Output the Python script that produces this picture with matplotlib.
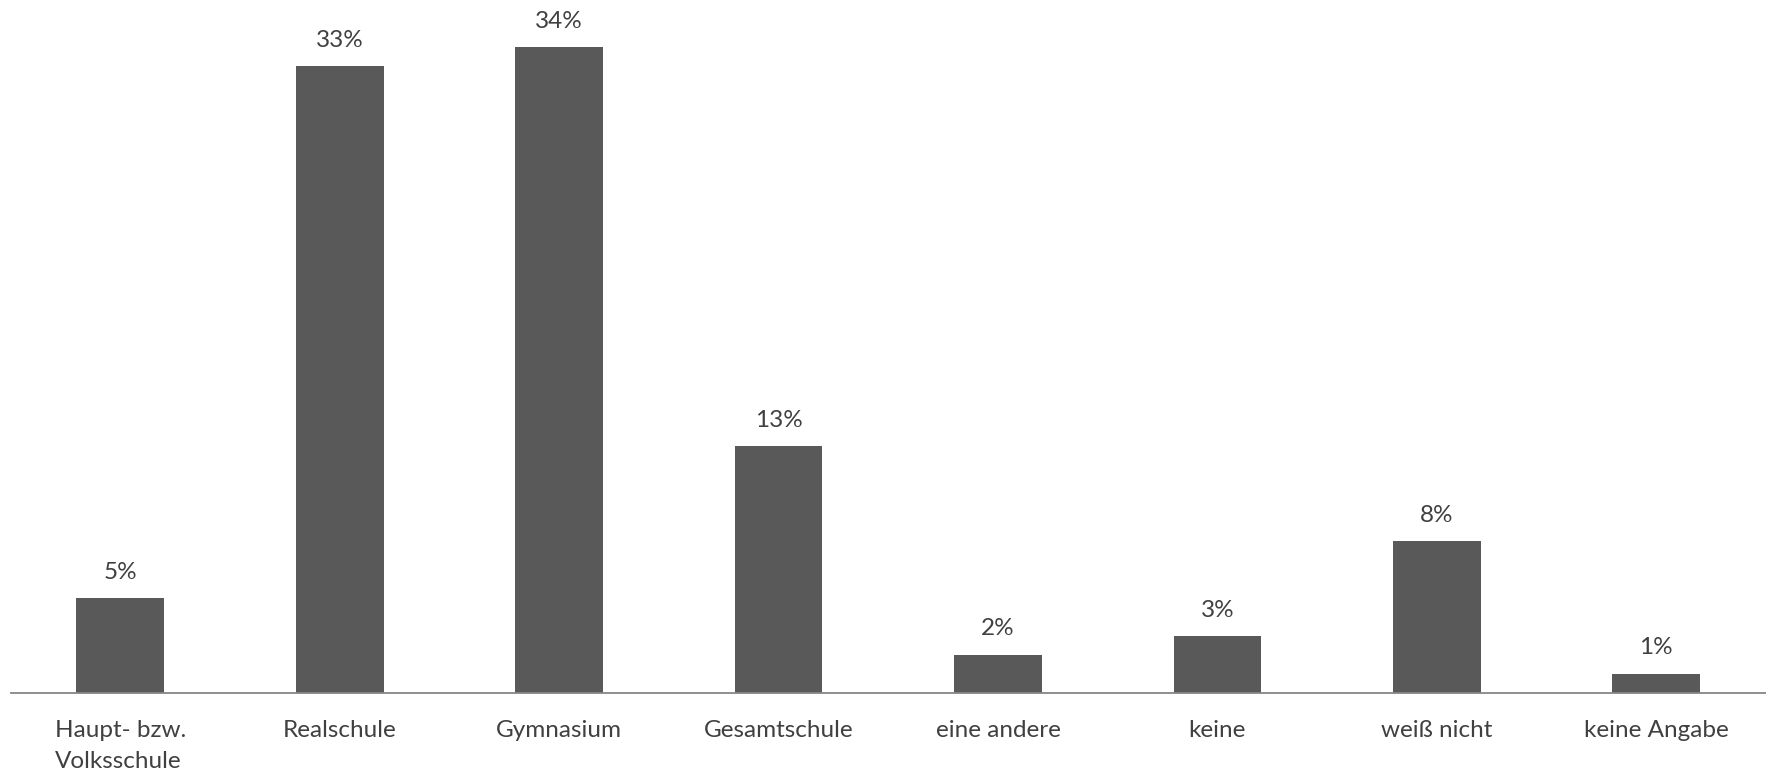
import matplotlib.pyplot as plt
import numpy as np

plt.rcParams['font.family'] = ['Lato', 'DejaVu Sans']

# school type shares in percent
categories = ['Haupt- bzw.\nVolksschule', 'Realschule', 'Gymnasium', 'Gesamtschule',
              'eine andere', 'keine', 'weiß nicht', 'keine Angabe']
shares = [5, 33, 34, 13, 2, 3, 8, 1]

fig = plt.figure(figsize=(17.66, 7.72), dpi=100)
ax = fig.add_axes([0.006, 0.1027, 0.994, 0.8973])

x = np.arange(len(categories))
bars = ax.bar(x, shares, width=0.4, color='#595959', zorder=2)

for b, v in zip(bars, shares):
    ax.annotate(f'{v}%', (b.get_x() + b.get_width() / 2, b.get_height()),
                xytext=(0, 11), textcoords='offset points',
                ha='center', va='bottom', fontsize=17.5, color='#404040')

ax.set_xlim(-0.5, len(categories) - 0.5)
ax.set_ylim(0, 36.5)
ax.set_xticks(x)
ax.set_xticklabels(categories, fontsize=17.5, color='#404040', linespacing=1.62,
                   va='top', multialignment='left')
ax.tick_params(axis='x', length=0, pad=19.5)
ax.set_yticks([])

for s in ['top', 'right', 'left']:
    ax.spines[s].set_visible(False)
ax.spines['bottom'].set_color('#868686')
ax.spines['bottom'].set_linewidth(1.3)

fig.savefig('out.png', dpi=100)
